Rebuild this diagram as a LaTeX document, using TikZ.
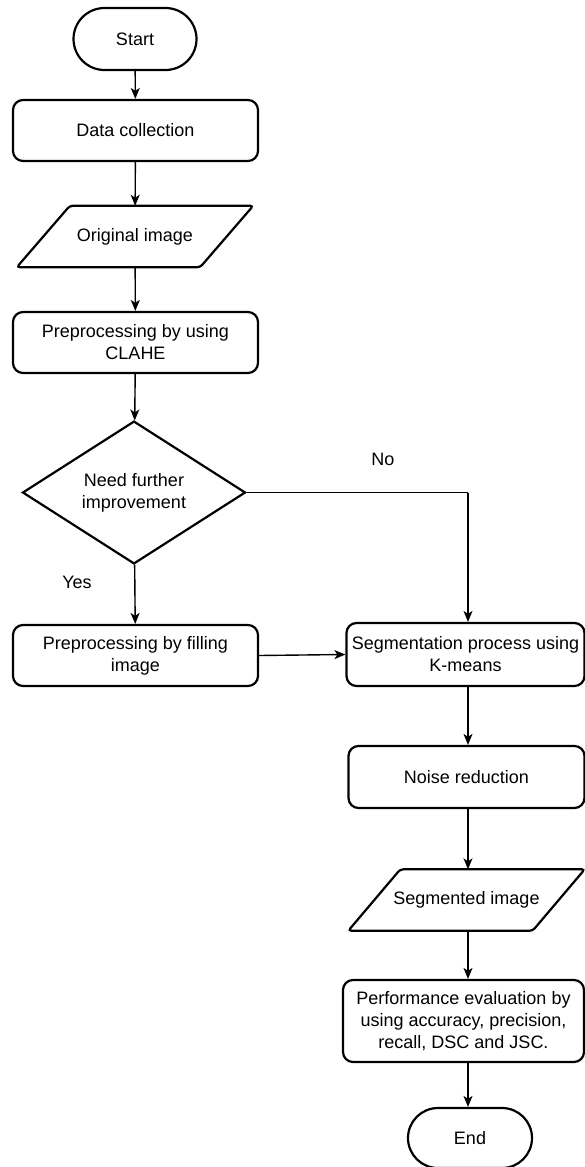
\documentclass[tikz,border=0pt]{standalone}
\usepackage{fontspec}
\setmainfont{Liberation Sans}
\usetikzlibrary{shapes.geometric,shapes.misc,arrows.meta,calc}
\begin{document}
\begin{tikzpicture}[x=1pt,y=-1pt,
  every node/.style={font=\fontsize{18}{22}\selectfont},
  proc/.style={draw, line width=2.2pt, rounded corners=10pt, align=center, inner sep=0pt},
  term/.style={draw, line width=2.2pt, rounded rectangle, inner sep=0pt, minimum width=123pt, minimum height=62pt},
  iobox/.style={inner sep=0pt, minimum height=61pt, minimum width=236pt},
  ioline/.style={line width=2.2pt, rounded corners=3pt},
  decide/.style={draw, line width=2.2pt, diamond, align=center, inner sep=0pt, minimum width=223pt, minimum height=135pt},
  conn/.style={line width=1.4pt, -{Stealth[length=11pt,width=9pt,inset=3pt]}},
  plain/.style={line width=1.4pt}
]
\useasboundingbox (0,0) rectangle (585,1167);

\node[term] (start) at (135,39) {Start};
\node[proc, minimum width=245pt, minimum height=61pt] (data) at (135.5,130.5) {Data collection};
\node[iobox] (orig) at (135,236.5) {Original image};
\draw[ioline] ($(orig.north west)+(53,0)$) -- (orig.north east) -- ($(orig.south east)-(53,0)$) -- (orig.south west) -- cycle;
\node[proc, minimum width=245pt, minimum height=61pt] (clahe) at (135.5,342.5) {Preprocessing by using\\CLAHE};
\node[decide] (need) at (134,492.5) {Need further\\improvement};
\node[proc, minimum width=245pt, minimum height=61pt] (fill) at (135.5,655.5) {Preprocessing by filling\\image};
\node[proc, minimum width=238pt, minimum height=63pt] (seg) at (465.5,654.5) {Segmentation process using\\K-means};
\node[proc, minimum width=236pt, minimum height=62pt] (noise) at (466.5,777) {Noise reduction};
\node[iobox] (segim) at (466.5,900) {Segmented image};
\draw[ioline] ($(segim.north west)+(52,0)$) -- (segim.north east) -- ($(segim.south east)-(52,0)$) -- (segim.south west) -- cycle;
\node[proc, minimum width=241pt, minimum height=82pt] (perf) at (463.5,1021) {Performance evaluation by\\using accuracy, precision,\\recall, DSC and JSC.};
\node[term, minimum width=124pt, minimum height=60pt] (end) at (470,1138) {End};

\node (no) at (383,459) {No};
\node (yes) at (77,582) {Yes};
\coordinate (corner) at (468,492.5);

\draw[conn] (start) -- (data);
\draw[conn] (data) -- (orig);
\draw[conn] (orig) -- (clahe);
\draw[conn] (clahe) -- (need);
\draw[conn] (need) -- (fill);
\draw[plain] (need.east) -- (corner);
\draw[conn] (corner) -- (corner |- seg.north);
\draw[conn] (fill.east) -- (seg.west);
\draw[conn] (seg.south -| corner) -- (noise.north -| corner);
\draw[conn] (noise.south -| corner) -- (segim.north -| corner);
\draw[conn] (segim.south -| corner) -- (perf.north -| corner);
\draw[conn] (perf.south -| corner) -- (end.north -| corner);
\end{tikzpicture}
\end{document}
